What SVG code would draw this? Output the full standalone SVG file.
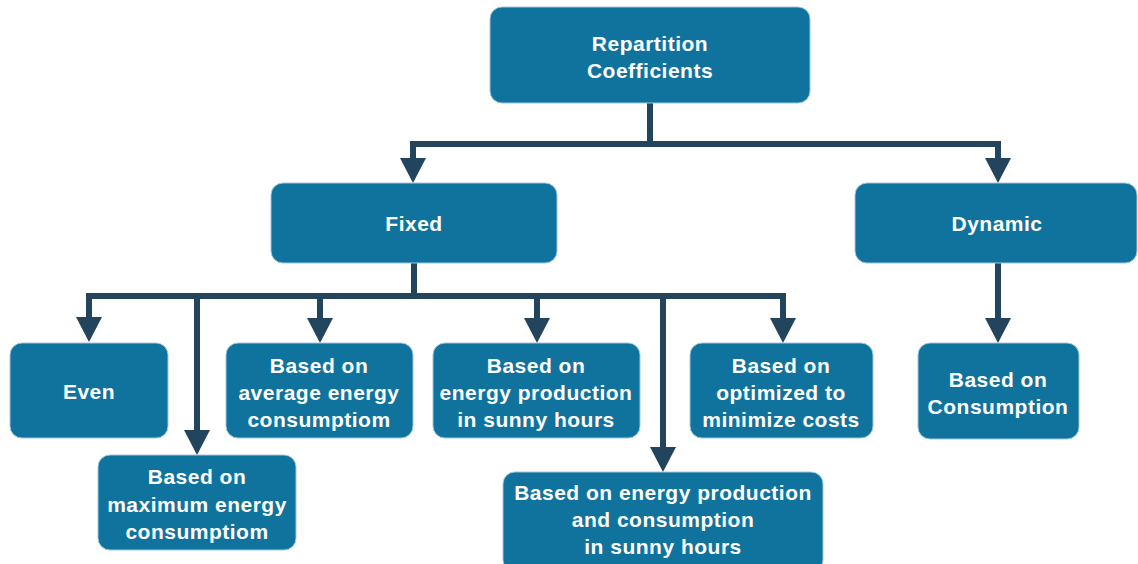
<svg xmlns="http://www.w3.org/2000/svg" width="1138" height="564" viewBox="0 0 1138 564">
<style>
.box{fill:#10739E;stroke:#9cc7dc;stroke-width:1}
.t{font-family:"Liberation Sans",Arial,sans-serif;font-weight:bold;font-size:21px;fill:#ffffff;text-anchor:middle;letter-spacing:0.5px}
.c{fill:none;stroke:#23445D;stroke-width:6;stroke-linejoin:miter;stroke-linecap:butt}
</style>
<defs>
<marker id="ah" markerUnits="userSpaceOnUse" markerWidth="26" markerHeight="26" viewBox="0 0 26 26" refX="0" refY="13" orient="auto">
<path d="M0,0 L25,13 L0,26 Z" fill="#23445D"/>
</marker>
</defs>
<g id="connectors">
<path class="c" d="M650,103 V144 H413 V158" marker-end="url(#ah)"/>
<path class="c" d="M650,144 H998 V158" marker-end="url(#ah)"/>
<path class="c" d="M414,263 V296 H89 V317" marker-end="url(#ah)"/>
<path class="c" d="M197,296 V430" marker-end="url(#ah)"/>
<path class="c" d="M320,296 V318" marker-end="url(#ah)"/>
<path class="c" d="M537,296 V318" marker-end="url(#ah)"/>
<path class="c" d="M414,296 H786" />
<path class="c" d="M663,296 V447" marker-end="url(#ah)"/>
<path class="c" d="M783,293 V318" marker-end="url(#ah)"/>
<path class="c" d="M998,263 V318" marker-end="url(#ah)"/>
</g>
<g id="root">
<rect class="box" x="490" y="7" width="320" height="96" rx="12"/>
<text class="t" x="650" y="51">Repartition</text>
<text class="t" x="650" y="78">Coefficients</text>
</g>
<g id="fixed">
<rect class="box" x="271" y="183" width="286" height="80" rx="12"/>
<text class="t" x="414" y="231">Fixed</text>
</g>
<g id="dynamic">
<rect class="box" x="855" y="183" width="282" height="80" rx="12"/>
<text class="t" x="997" y="231">Dynamic</text>
</g>
<g id="even">
<rect class="box" x="10" y="343" width="158" height="95" rx="12"/>
<text class="t" x="89" y="399">Even</text>
</g>
<g id="maximum">
<rect class="box" x="98" y="455" width="198" height="95" rx="12"/>
<text class="t" x="197" y="484">Based on</text>
<text class="t" x="197" y="512">maximum energy</text>
<text class="t" x="197" y="539">consumptiom</text>
</g>
<g id="average">
<rect class="box" x="226" y="343" width="187" height="95" rx="12"/>
<text class="t" x="319" y="373">Based on</text>
<text class="t" x="319" y="400">average energy</text>
<text class="t" x="319" y="427">consumptiom</text>
</g>
<g id="production">
<rect class="box" x="433" y="343" width="207" height="95" rx="12"/>
<text class="t" x="536" y="373">Based on</text>
<text class="t" x="536" y="400">energy production</text>
<text class="t" x="536" y="427">in sunny hours</text>
</g>
<g id="production-consumption">
<rect class="box" x="503" y="472" width="320" height="100" rx="12"/>
<text class="t" x="663" y="500">Based on energy production</text>
<text class="t" x="663" y="527">and consumption</text>
<text class="t" x="663" y="554">in sunny hours</text>
</g>
<g id="optimized">
<rect class="box" x="690" y="343" width="183" height="95" rx="12"/>
<text class="t" x="781" y="373">Based on</text>
<text class="t" x="781" y="400">optimized to</text>
<text class="t" x="781" y="427">minimize costs</text>
</g>
<g id="consumption">
<rect class="box" x="918" y="343" width="161" height="96" rx="12"/>
<text class="t" x="998" y="387">Based on</text>
<text class="t" x="998" y="414">Consumption</text>
</g>
</svg>
